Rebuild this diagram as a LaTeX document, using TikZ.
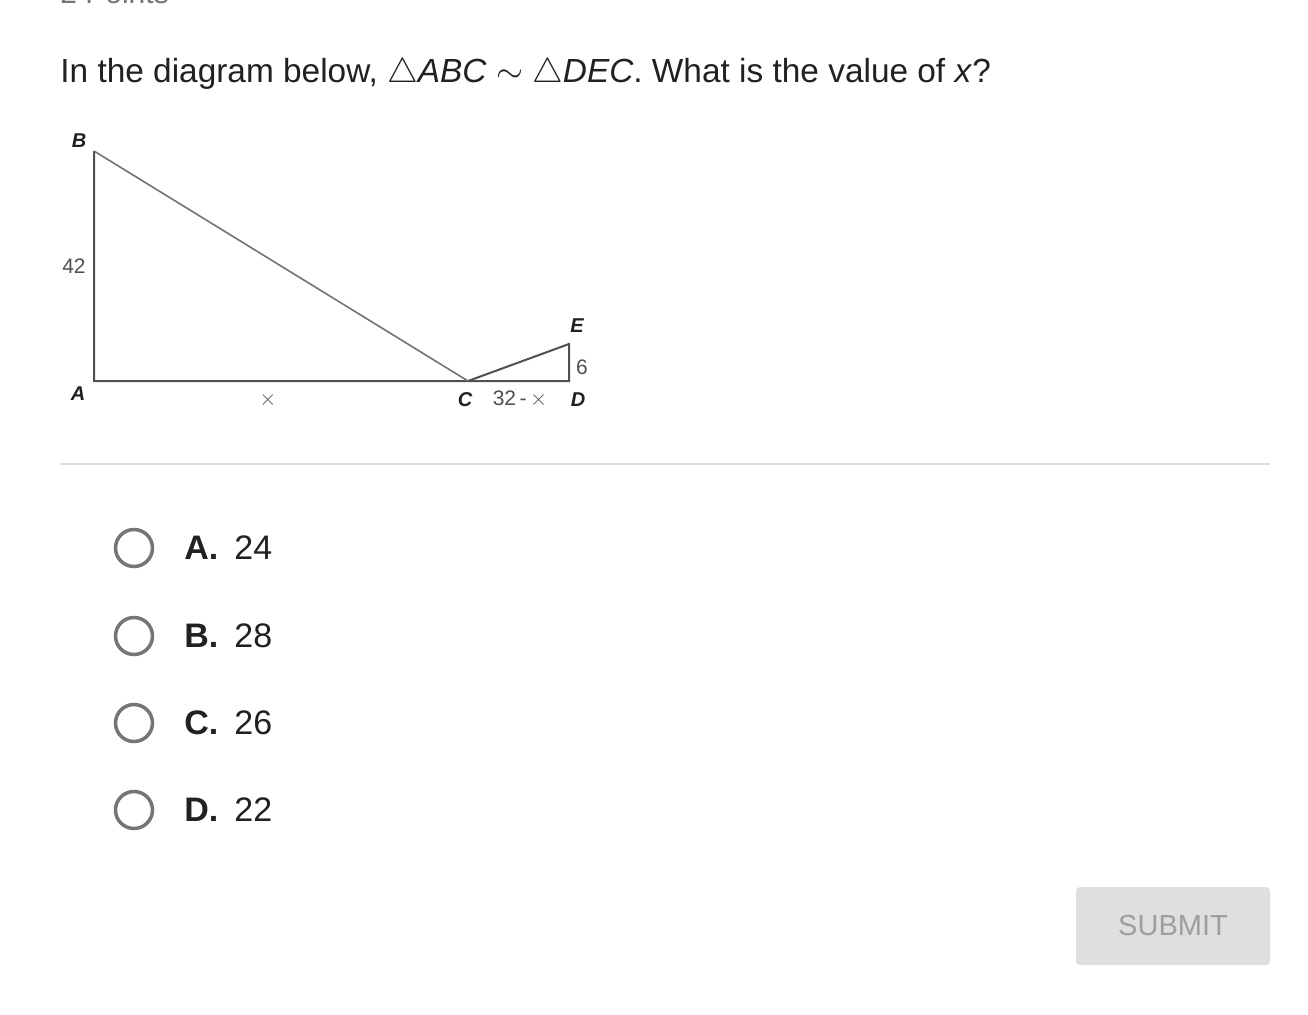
\documentclass[tikz,border=0pt]{standalone}
\usepackage{fontspec}
\setmainfont{Liberation Sans}
\definecolor{txt}{HTML}{212121}
\definecolor{radio}{HTML}{757575}
\definecolor{sep}{HTML}{DDDDDD}
\definecolor{btnfill}{HTML}{DFDFDF}
\definecolor{btntext}{HTML}{9E9E9E}
\definecolor{edge}{HTML}{505050}
\tikzset{
  question/.style={anchor=base west, text=txt, font=\fontsize{16.7}{20}\selectfont, inner sep=0pt},
  vlabel/.style={text=txt, font=\fontsize{10}{11}\selectfont\bfseries\itshape, inner sep=0pt},
  mlabel/.style={text=edge, font=\fontsize{10.5}{12}\selectfont, inner sep=0pt},
  tri/.style={draw=edge, line width=1pt, line join=miter},
  hyp/.style={draw=edge!80, line width=0.8pt},
  radiobtn/.style={circle, draw=radio, line width=1.75pt, minimum size=18.5pt, inner sep=0pt},
  optletter/.style={anchor=base west, text=txt, font=\fontsize{17}{20}\selectfont\bfseries, inner sep=0pt},
  optvalue/.style={anchor=base west, text=txt, font=\fontsize{17}{20}\selectfont, inner sep=0pt},
}
\begin{document}
\begin{tikzpicture}[x=0.5pt,y=-0.5pt]
\useasboundingbox (0,0) rectangle (1308,1014);
\clip (0,0) rectangle (1308,1014);
\fill[white] (0,0) rectangle (1308,1014);
% cut-off header
\node[anchor=base west, text=radio, font=\fontsize{15}{18}\selectfont, inner sep=0pt] (pts) at (60,3) {2 Points};
% question
\node[question] (q) at (60,82) {In the diagram below, $\triangle$\textit{ABC} $\sim$ $\triangle$\textit{DEC}. What is the value of \textit{x}?};
% diagram
\coordinate (A) at (94,381);
\coordinate (B) at (94,151);
\coordinate (C) at (468,381);
\coordinate (D) at (569,381);
\coordinate (E) at (569,344);
\draw[tri] (B) -- (A) -- (D) -- (E) -- (C);
\draw[hyp] (B) -- (C);
\node[vlabel] (lB) at (79,141) {B};
\node[vlabel] (lA) at (78,394) {A};
\node[vlabel] (lC) at (465,400) {C};
\node[vlabel] (lD) at (578,400) {D};
\node[vlabel] (lE) at (577,326) {E};
\node[mlabel] (l42) at (74,266) {42};
\node[mlabel] (l6) at (582,367) {6};
\node[mlabel] (lx) at (268,400) {$\times$};
\node[mlabel] (l32) at (520,399) {32\,-\,$\times$};
% separator
\draw[sep, line width=1pt] (60,464) -- (1270,464);
% options
\foreach \y/\L/\V [count=\i] in {548/A/24, 636/B/28, 723/C/26, 810/D/22}{
  \node[radiobtn] (r\i) at (134,\y) {};
  \node[optletter] (o\i) at (184,\y+11) {\L.};
  \node[optvalue] (v\i) at (234,\y+11) {\V};
}
% submit button
\fill[btnfill, rounded corners=2pt] (1076,887) rectangle (1270,965);
\node[text=btntext, font=\fontsize{14.5}{17}\selectfont] (submit) at (1173,926) {SUBMIT};
\end{tikzpicture}
\end{document}
